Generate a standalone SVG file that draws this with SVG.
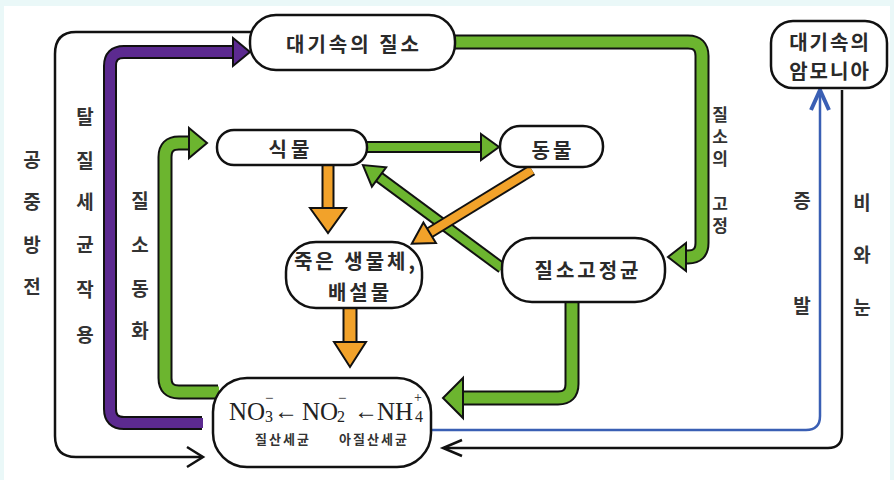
<svg xmlns="http://www.w3.org/2000/svg" width="894" height="480" viewBox="0 0 894 480">
<style>
.lbl{font-family:"Noto Sans CJK KR","Noto Sans",sans-serif;font-weight:700;fill:#333;font-size:19px;text-anchor:middle}
.vt{font-family:"Noto Sans CJK KR","Noto Sans",sans-serif;font-weight:700;fill:#333;font-size:17px;writing-mode:vertical-rl;text-orientation:upright;letter-spacing:5px}
.nt{font-family:"Noto Sans CJK KR","Noto Sans",sans-serif;font-weight:700;fill:#2a2a2a;font-size:20px;text-anchor:middle;letter-spacing:3px}
.sm{font-family:"Noto Sans CJK KR","Noto Sans",sans-serif;font-weight:700;fill:#333;font-size:13px;text-anchor:middle;letter-spacing:2px}
.chem{font-family:"Liberation Serif","DejaVu Serif",serif;fill:#222}
.box{fill:#fff;stroke:#111;stroke-width:2.5}
.thin{fill:none;stroke:#111;stroke-width:2.5}
.ol{fill:none;stroke:#111}
.g{fill:none;stroke:#6cb52f}
.o{fill:none;stroke:#f2a22a}
.p{fill:none;stroke:#5c2a90}
.gh{fill:#6cb52f;stroke:#111;stroke-width:2;stroke-linejoin:miter}
.oh{fill:#f2a22a;stroke:#111;stroke-width:2;stroke-linejoin:miter}
.ph{fill:#5c2a90;stroke:#111;stroke-width:2;stroke-linejoin:miter}
</style>
<rect x="0" y="0" width="894" height="480" fill="#eaf8f8"/>
<rect x="4" y="6" width="886" height="474" fill="#ffffff"/>

<g id="connectors">
  <!-- 공중방전 -->
  <path class="thin" d="M252,32 H76 Q55,32 55,54 V436 Q55,457 76,457 H202"/>
  <polyline class="thin" points="187,447 203,457 187,467"/>
  <!-- 탈질세균작용 -->
  <path class="ol" stroke-width="14" d="M202,423 H124 Q110,423 110,409 V66 Q110,52 124,52 H234"/>
  <path class="p" stroke-width="10" d="M203,423 H124 Q110,423 110,409 V66 Q110,52 124,52 H235"/>
  <polygon class="ph" points="233,38 250,52 233,66"/>
  <!-- 질소동화 -->
  <path class="ol" stroke-width="15" d="M218,392 H179 Q165,392 165,378 V157 Q165,143 179,143 H191"/>
  <path class="g" stroke-width="11" d="M219,392 H179 Q165,392 165,378 V157 Q165,143 179,143 H192"/>
  <polygon class="gh" points="189,128 207,143 189,158"/>
  <!-- 질소의 고정 -->
  <path class="ol" stroke-width="15" d="M450,42 H688 Q702,42 702,56 V243 Q702,257 688,257 H684"/>
  <path class="g" stroke-width="11" d="M450,42 H688 Q702,42 702,56 V243 Q702,257 688,257 H683"/>
  <polygon class="gh" points="686,243 668,257 686,271"/>
  <!-- 질소고정균 -> 토양 -->
  <path class="ol" stroke-width="15" d="M572,300 V384 Q572,398 558,398 H460"/>
  <path class="g" stroke-width="11" d="M572,300 V384 Q572,398 558,398 H459"/>
  <polygon class="gh" points="463,378 443,398 463,418"/>
  <!-- 식물 -> 동물 -->
  <path class="ol" stroke-width="12" d="M366,147 H482"/>
  <path class="g" stroke-width="8" d="M366,147 H483"/>
  <polygon class="gh" points="481,134 499,147 481,160"/>
  <!-- 질소고정균 -> 식물 -->
  <g transform="translate(502,268) rotate(216.5)">
    <path class="ol" stroke-width="12" d="M0,0 H155"/>
    <path class="g" stroke-width="8" d="M0,0 H156"/>
    <polygon class="gh" points="153,-12 173,0 153,12"/>
  </g>
  <!-- 동물 -> 죽은 생물체 -->
  <g transform="translate(532,170) rotate(148.5)">
    <path class="ol" stroke-width="12" d="M0,0 H122"/>
    <path class="o" stroke-width="8" d="M0,0 H123"/>
    <polygon class="oh" points="120,-12 141,0 120,12"/>
  </g>
  <!-- 식물 -> 죽은 생물체 -->
  <path class="ol" stroke-width="13" d="M328,164 V210"/>
  <path class="o" stroke-width="9" d="M328,164 V211"/>
  <polygon class="oh" points="310,208 328,233 346,208"/>
  <!-- 죽은 생물체 -> 토양 -->
  <path class="ol" stroke-width="15" d="M350,306 V344"/>
  <path class="o" stroke-width="11" d="M350,306 V345"/>
  <polygon class="oh" points="334,342 350,367 366,342"/>
  <!-- 증발 -->
  <path d="M432,430 H806 Q820,430 820,416 V92" fill="none" stroke="#3a5fb4" stroke-width="2.5"/>
  <polyline points="811,110 820,90 829,110" fill="none" stroke="#3a5fb4" stroke-width="4"/>
  <!-- 비와 눈 -->
  <path class="thin" d="M842,90 V434 Q842,448 828,448 H444"/>
  <polyline class="thin" points="462,440 443,448 462,456"/>
</g>

<g id="n-atm-n2">
  <rect class="box" x="250" y="15" width="205" height="55" rx="26" ry="26"/>
  <text class="nt" x="354" y="52">대기속의 질소</text>
</g>
<g id="n-plant">
  <rect class="box" x="217" y="130" width="150" height="35" rx="17" ry="17"/>
  <text class="nt" x="291" y="157" style="letter-spacing:4px">식물</text>
</g>
<g id="n-animal">
  <rect class="box" x="500" y="126" width="103" height="41" rx="20" ry="20"/>
  <text class="nt" x="553" y="158">동물</text>
</g>
<g id="n-dead">
  <rect class="box" x="286" y="242" width="136" height="66" rx="30" ry="30"/>
  <text class="nt" x="356" y="269">죽은 생물체,</text>
  <text class="nt" x="360" y="300">배설물</text>
</g>
<g id="n-fixer">
  <rect class="box" x="502" y="238" width="163" height="64" rx="30" ry="30"/>
  <text class="nt" x="588" y="278">질소고정균</text>
</g>
<g id="n-soil">
  <rect class="box" x="213" y="378" width="218" height="89" rx="34" ry="34"/>
  <text class="chem" font-size="25">
    <tspan x="229" y="420">NO</tspan><tspan x="265" y="422" font-size="16">3</tspan>
    <tspan x="274" y="419" font-size="24">←</tspan>
    <tspan x="302" y="420">NO</tspan><tspan x="337" y="422" font-size="16">2</tspan>
    <tspan x="354" y="419" font-size="24">←</tspan>
    <tspan x="377" y="420">NH</tspan><tspan x="415" y="422" font-size="16">4</tspan>
  </text>
  <text class="chem" font-size="15"><tspan x="265" y="403">−</tspan><tspan x="338" y="403">−</tspan><tspan x="414" y="402" font-size="14">+</tspan></text>
  <text class="sm" x="283" y="444">질산세균</text>
  <text class="sm" x="374" y="444">아질산세균</text>
</g>
<g id="n-atm-nh3">
  <rect class="box" x="771" y="21" width="116" height="67" rx="22" ry="22"/>
  <text class="nt" x="830" y="50" style="letter-spacing:2px">대기속의</text>
  <text class="nt" x="830" y="79" style="letter-spacing:2px">암모니아</text>
</g>

<g id="labels">
  <text class="lbl" x="32" y="167">공</text>
  <text class="lbl" x="32" y="209">중</text>
  <text class="lbl" x="32" y="252">방</text>
  <text class="lbl" x="32" y="294">전</text>

  <text class="lbl" x="85" y="124">탈</text>
  <text class="lbl" x="85" y="168">질</text>
  <text class="lbl" x="85" y="209">세</text>
  <text class="lbl" x="85" y="252">균</text>
  <text class="lbl" x="85" y="297">작</text>
  <text class="lbl" x="85" y="342">용</text>

  <text class="lbl" x="140" y="208">질</text>
  <text class="lbl" x="140" y="252">소</text>
  <text class="lbl" x="140" y="296">동</text>
  <text class="lbl" x="140" y="338">화</text>

  <text class="vt" x="720" y="106">질소의</text>
  <text class="vt" x="720" y="195">고정</text>

  <text class="lbl" x="802" y="208">증</text>
  <text class="lbl" x="802" y="313">발</text>

  <text class="lbl" x="862" y="210">비</text>
  <text class="lbl" x="862" y="262">와</text>
  <text class="lbl" x="862" y="315">눈</text>
</g>
</svg>
